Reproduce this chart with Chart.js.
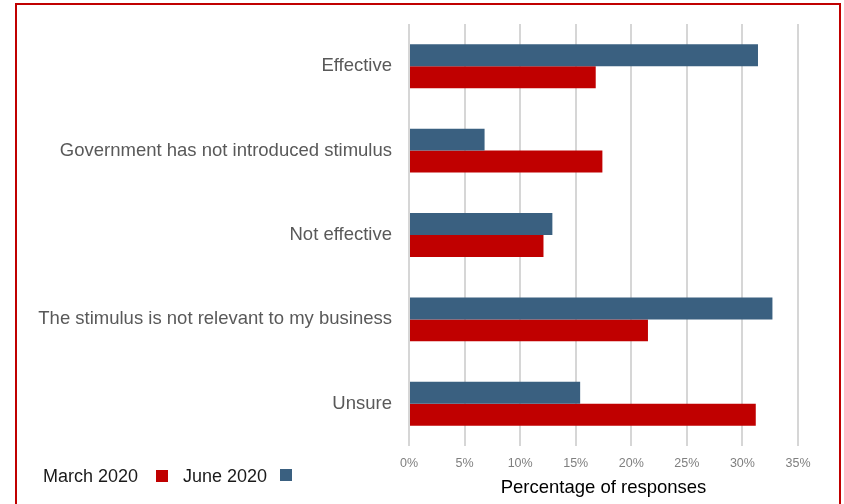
<!DOCTYPE html>
<html>
<head>
<meta charset="utf-8">
<script src="https://cdn.jsdelivr.net/npm/chart.js@4"></script>
<style>
    body { margin: 0; background: #fff; font-family: "Liberation Sans", Arial, sans-serif; }
    #wrap { position: relative; width: 844px; height: 504px; overflow: hidden; }
    #marco { position: absolute; left: 15px; top: 3px; width: 822px; height: 510px; border: 2px solid #c00000; pointer-events: none; }
    .leyenda { position: absolute; font-size: 18px; line-height: 20px; color: #1a1a1a; white-space: nowrap; }
    .cuadro { position: absolute; width: 12px; height: 12px; }
</style>
</head>
<body>
<div id="wrap">
    <canvas id="chartEstimulo" width="844" height="504"></canvas>
    <div id="marco"></div>
    <span class="leyenda" style="left:43px; top:466px;">March 2020</span>
    <span class="cuadro" style="left:156px; top:470px; background:#c00000;"></span>
    <span class="leyenda" style="left:183px; top:466px;">June 2020</span>
    <span class="cuadro" style="left:280px; top:469px; background:#3a6080;"></span>
</div>
<script>
const categorias = ['Effective', 'Government has not introduced stimulus', 'Not effective', 'The stimulus is not relevant to my business', 'Unsure'];
const junio2020 = [31.4, 6.8, 12.9, 32.7, 15.4];
const marzo2020 = [16.8, 17.4, 12.1, 21.5, 31.2];
const ticksX = [0, 5, 10, 15, 20, 25, 30, 35];

const fuente = '"Liberation Sans", Arial, sans-serif';

const ctx = document.getElementById('chartEstimulo').getContext('2d');

const chartEstimulo = new Chart(ctx, {
    type: 'bar',
    data: {
        labels: categorias,
        datasets: [
            {
                label: 'June 2020',
                data: junio2020,
                backgroundColor: '#3a6080'
            },
            {
                label: 'March 2020',
                data: marzo2020,
                backgroundColor: '#c00000'
            }
        ]
    },
    options: {
        indexAxis: 'y',
        responsive: false,
        animation: false,
        barPercentage: 1,
        categoryPercentage: 0.52,
        layout: {
            padding: { top: 24, right: 46, left: 0, bottom: 0 }
        },
        plugins: {
            legend: { display: false },
            tooltip: { enabled: false }
        },
        scales: {
            x: {
                min: 0,
                max: 35,
                afterBuildTicks: (scale) => {
                    scale.ticks = ticksX.map(v => ({ value: v }));
                },
                afterFit: (scale) => {
                    scale.height = 58;
                },
                border: { display: false },
                grid: {
                    color: '#d6d6d6',
                    lineWidth: 2,
                    drawTicks: false
                },
                ticks: {
                    padding: 10,
                    color: '#7f7f7f',
                    font: { family: fuente, size: 12.5 },
                    callback: (v) => v + '%'
                },
                title: {
                    display: true,
                    text: 'Percentage of responses',
                    color: '#000',
                    font: { family: fuente, size: 18.5 },
                    padding: { top: 0, bottom: 5 }
                }
            },
            y: {
                afterFit: (scale) => {
                    scale.width = 409;
                },
                border: { display: false },
                grid: { display: false, drawTicks: true, tickLength: 17 },
                ticks: {
                    padding: 0,
                    color: '#595959',
                    font: { family: fuente, size: 18.5 }
                }
            }
        }
    }
});
</script>
</body>
</html>
